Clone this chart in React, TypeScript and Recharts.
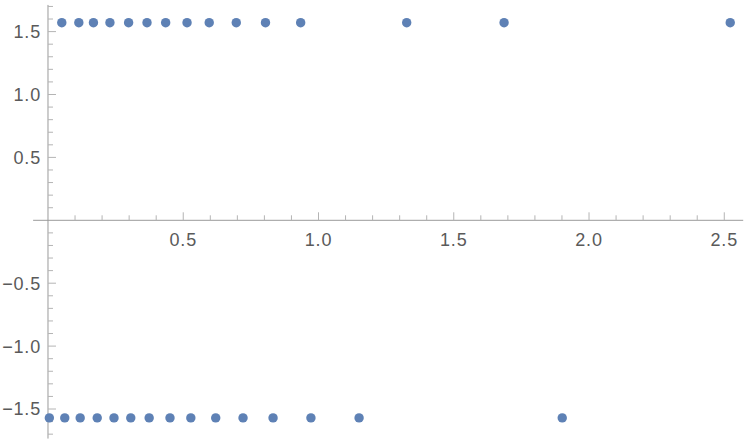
import React from 'react';
import { ScatterChart, Scatter, XAxis, YAxis, ReferenceLine, ReferenceDot } from 'recharts';

const upperX = [0.051, 0.114, 0.168, 0.229, 0.298, 0.366, 0.435, 0.514, 0.596, 0.696, 0.804, 0.934, 1.326, 1.686, 2.522];
const upperY = 1.5708;
const lowerX = [0.005, 0.062, 0.119, 0.182, 0.244, 0.306, 0.374, 0.451, 0.528, 0.62, 0.721, 0.832, 0.972, 1.15, 1.901];
const lowerY = -1.5708;

const xMajor = [0.5, 1, 1.5, 2, 2.5];
const xLabels = ['0.5', '1.0', '1.5', '2.0', '2.5'];
const xMinor = [0.1, 0.2, 0.3, 0.4, 0.6, 0.7, 0.8, 0.9, 1.1, 1.2, 1.3, 1.4, 1.6, 1.7, 1.8, 1.9, 2.1, 2.2, 2.3, 2.4];
const yMajor = [-1.5, -1, -0.5, 0.5, 1, 1.5];
const yLabels = ['\u22121.5', '\u22121.0', '\u22120.5', '0.5', '1.0', '1.5'];
const yMinor = [-1.7, -1.6, -1.4, -1.3, -1.2, -1.1, -0.9, -0.8, -0.7, -0.6, -0.4, -0.3, -0.2, -0.1,
  0.1, 0.2, 0.3, 0.4, 0.6, 0.7, 0.8, 0.9, 1.1, 1.2, 1.3, 1.4, 1.6, 1.7];

const upper = upperX.map((x) => ({ x, y: upperY }));
const lower = lowerX.map((x) => ({ x, y: lowerY }));

const AXIS = '#9a9a9a';
const TICK = '#b4b4b4';
const TEXT = '#5a5a5a';
const FONT = '"Liberation Sans", Arial, sans-serif';

const Point = (p: any) => <circle cx={p.cx} cy={p.cy} r={4.7} fill="#5e81b5" />;

const App: React.FC = () => {
  return <div style={{ position: 'absolute', left: 0, top: 0 }}>
      <ScatterChart width={747} height={444} margin={{ top: 0, right: 0, bottom: 0, left: 0 }}>
        <XAxis type="number" dataKey="x" domain={[-0.1774, 2.584]} allowDataOverflow hide />
        <YAxis type="number" dataKey="y" domain={[-1.7782, 1.7512]} allowDataOverflow hide />
        <ReferenceLine segment={[{ x: -0.055, y: 0 }, { x: 2.57, y: 0 }]} stroke={AXIS} strokeWidth={1} ifOverflow="visible" />
        <ReferenceLine segment={[{ x: 0, y: 1.712 }, { x: 0, y: -1.735 }]} stroke={AXIS} strokeWidth={1} ifOverflow="visible" />
        {xMinor.map((v) => <ReferenceDot key={'xm' + v} x={v} y={0} r={1} shape={(p: any) => <line x1={p.cx} x2={p.cx} y1={p.cy} y2={p.cy - 5} stroke={TICK} />} />)}
        {xMajor.map((v, i) => <ReferenceDot key={'xM' + v} x={v} y={0} r={1} shape={(p: any) => <g>
              <line x1={p.cx} x2={p.cx} y1={p.cy} y2={p.cy - 8} stroke={TICK} />
              <text x={p.cx} y={p.cy + 25.7} textAnchor="middle" fill={TEXT} fontSize={18} fontFamily={FONT} letterSpacing={0.8}>{xLabels[i]}</text>
            </g>} />)}
        {yMinor.map((v) => <ReferenceDot key={'ym' + v} x={0} y={v} r={1} shape={(p: any) => <line x1={p.cx} x2={p.cx + 5} y1={p.cy} y2={p.cy} stroke={TICK} />} />)}
        {yMajor.map((v, i) => <ReferenceDot key={'yM' + v} x={0} y={v} r={1} shape={(p: any) => <g>
              <line x1={p.cx} x2={p.cx + 8} y1={p.cy} y2={p.cy} stroke={TICK} />
              <text x={p.cx - 7} y={p.cy + 6.4} textAnchor="end" fill={TEXT} fontSize={18} fontFamily={FONT} letterSpacing={0.8}>{yLabels[i]}</text>
            </g>} />)}
        <Scatter data={upper} shape={Point} isAnimationActive={false} />
        <Scatter data={lower} shape={Point} isAnimationActive={false} />
      </ScatterChart>
    </div>;
};

export default App;
